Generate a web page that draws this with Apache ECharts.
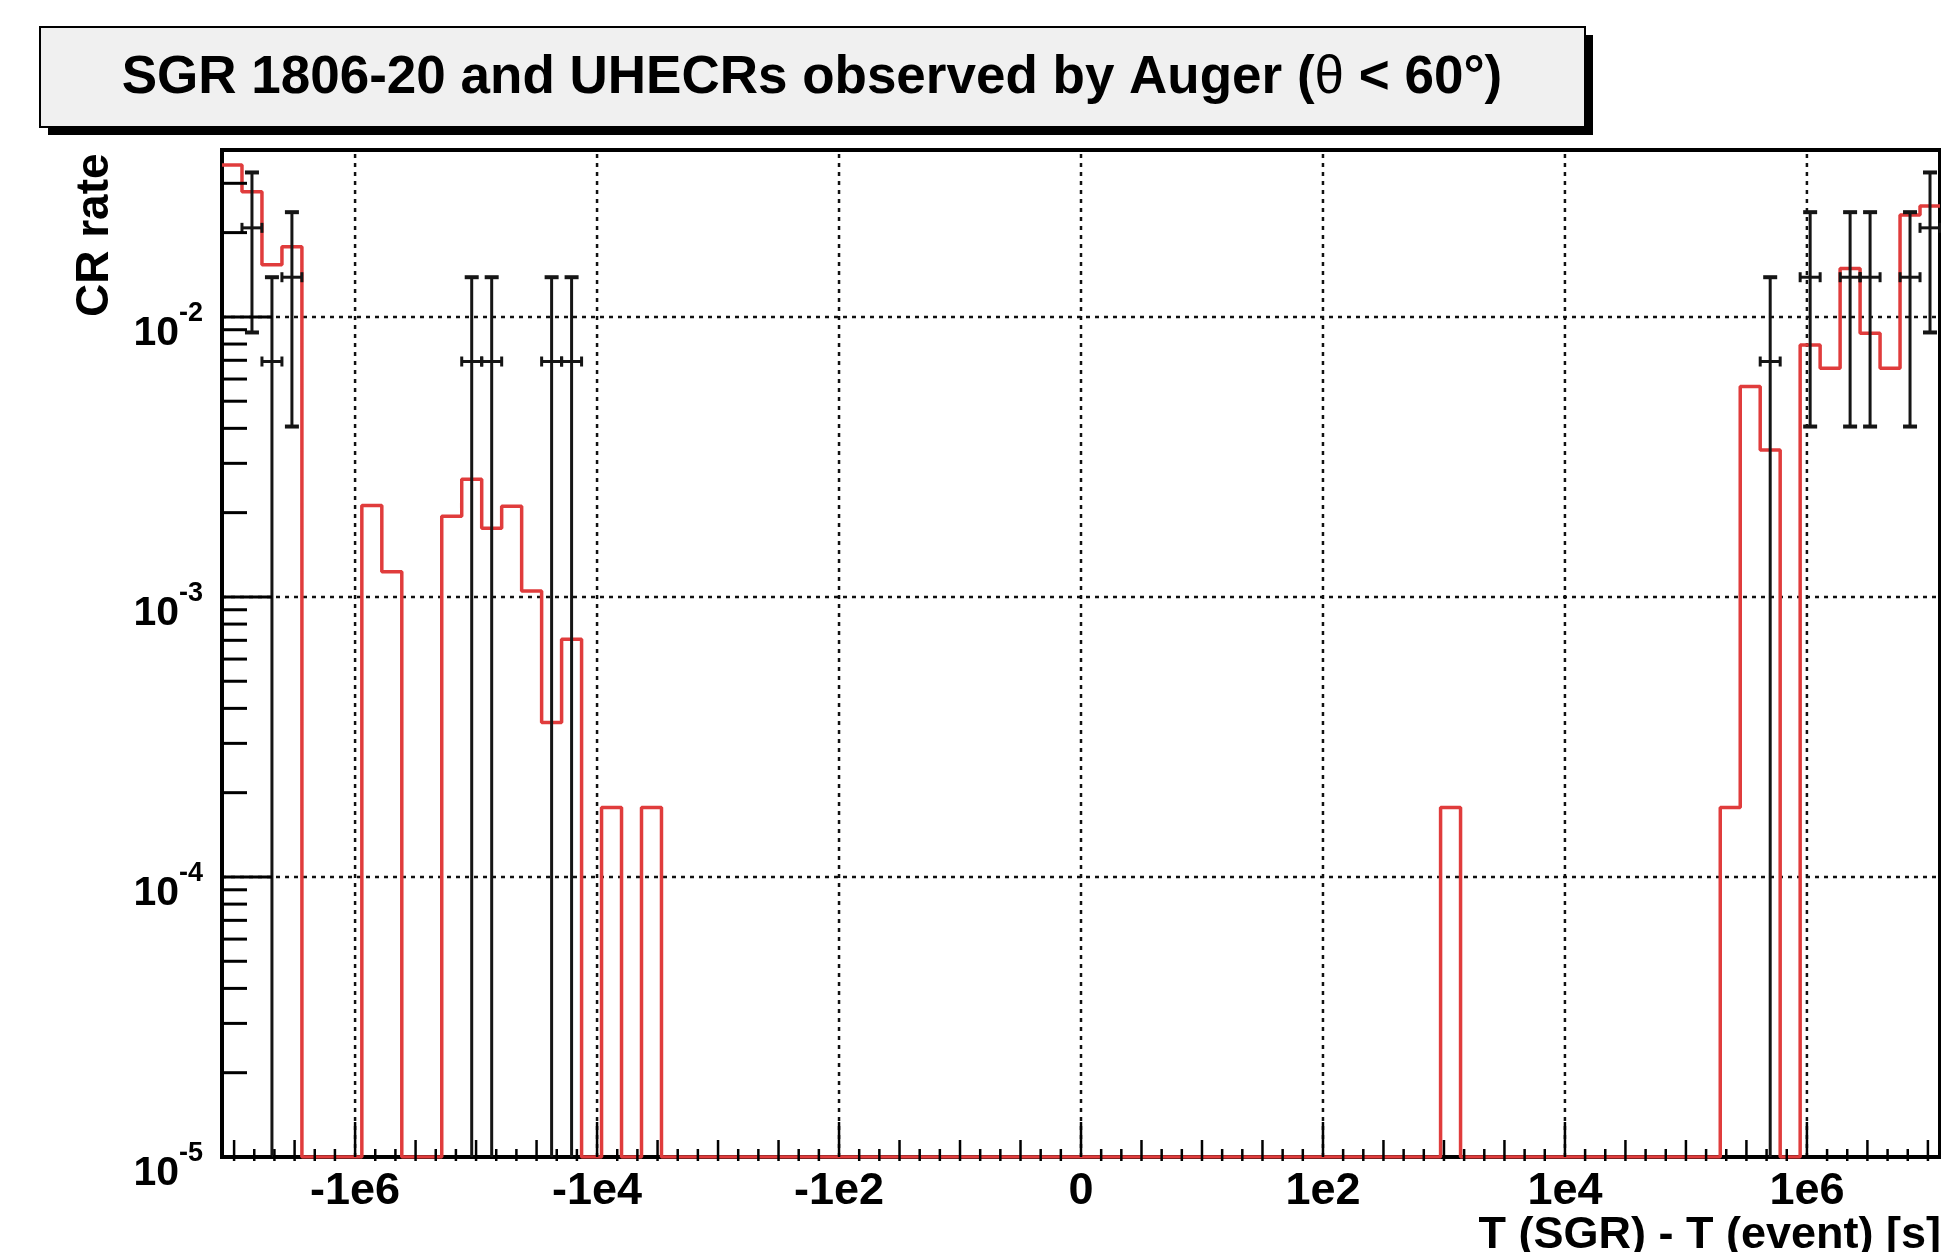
<!DOCTYPE html>
<html>
<head>
<meta charset="utf-8">
<script src="https://cdn.jsdelivr.net/npm/echarts@6/dist/echarts.min.js"></script>
<style>
html,body{margin:0;padding:0;background:#fff;overflow:hidden}
#main{width:1941px;height:1252px}
</style>
</head>
<body>
<div id="main"></div>
<script>
// ---- axis ranges (transformed time axis u = sign(t)*log10|t|) ----
const X_RANGE = [-7.1, 7.1];
const N_BINS = 86;
const Y_RANGE = [1e-5, 0.03945];

// ---- expected CR rate histogram (red), one value per bin, 0 = empty ----
const redRate = [
  0.0349, 0.0280, 0.01535, 0.0178,
  0, 0, 0,
  0.00212, 0.00123,
  0, 0,
  0.00194, 0.00263, 0.00176, 0.00211, 0.00105, 0.000356, 0.000706,
  0,
  0.000177,
  0,
  0.000177,
  0, 0, 0, 0, 0, 0, 0, 0, 0, 0,
  0, 0, 0, 0, 0, 0, 0, 0, 0, 0,
  0, 0, 0, 0, 0, 0, 0, 0, 0, 0,
  0, 0, 0, 0, 0, 0, 0, 0, 0,
  0.000177,
  0, 0, 0, 0, 0, 0, 0, 0, 0, 0, 0, 0, 0,
  0.000177,
  0.00564, 0.00335,
  0,
  0.00794, 0.00656, 0.0149, 0.00874, 0.00656, 0.0231, 0.0249
];

// ---- observed UHECR rate (black points with errors) ----
const dataBin  = [1, 2, 3, 12, 13, 16, 17, 77, 79, 81, 82, 84, 85];
const dataRate = [0.0208, 0.00693, 0.01386, 0.00693, 0.00693, 0.00693, 0.00693,
                  0.00693, 0.01386, 0.01386, 0.01386, 0.01386, 0.0208];
const dataErr  = [0.0120, 0.00693, 0.0098, 0.00693, 0.00693, 0.00693, 0.00693,
                  0.00693, 0.0098, 0.0098, 0.0098, 0.0098, 0.0120];

// ---- ticks / labels ----
const xTickPos = [-6, -4, -2, 0, 2, 4, 6];
const xTickLabels = ['-1e6', '-1e4', '-1e2', '0', '1e2', '1e4', '1e6'];
const yGridPos = [1e-4, 1e-3, 1e-2];
const yDecades = [-5, -4, -3, -2];

const FONT = "'Liberation Sans', Arial, Helvetica, sans-serif";
const binW = (X_RANGE[1] - X_RANGE[0]) / N_BINS;
const edge = k => X_RANGE[0] + k * binW;

// red step outline
const redLine = [];
redRate.forEach((v, k) => {
  const y = v > 0 ? v : Y_RANGE[0];
  redLine.push([edge(k), y]);
  redLine.push([edge(k + 1), y]);
});

const blackData = dataBin.map((b, i) => [edge(b) + binW / 2, dataRate[i], dataErr[i], binW / 2]);

const chart = echarts.init(document.getElementById('main'), null, {renderer: 'canvas'});

function lineEl(x1, y1, x2, y2, w, color, dash) {
  return {type: 'line', shape: {x1, y1, x2, y2},
    style: {stroke: color || '#000', lineWidth: w, lineDash: dash || null}, silent: true};
}

const option = {
  backgroundColor: '#fff',
  animation: false,
  grid: {left: 222, right: 1, top: 150, bottom: 95, show: true,
         borderColor: '#000', borderWidth: 4, backgroundColor: 'transparent'},
  xAxis: {
    type: 'value', min: X_RANGE[0], max: X_RANGE[1],
    axisLine: {show: false}, axisTick: {show: false}, splitLine: {show: false},
    axisLabel: {
      customValues: xTickPos,
      formatter: v => { const i = xTickPos.findIndex(p => Math.abs(p - v) < 1e-9); return i >= 0 ? xTickLabels[i] : ''; },
      fontFamily: FONT, fontWeight: 'bold', fontSize: 45, color: '#000', margin: 12
    }
  },
  yAxis: {
    type: 'log', logBase: 10, min: Y_RANGE[0], max: Y_RANGE[1], interval: 1,
    axisLine: {show: false}, axisTick: {show: false}, splitLine: {show: false},
    axisLabel: {
      showMaxLabel: false,
      margin: 19,
      padding: [20, 0, 0, 0],
      formatter: v => {
        const e = Math.log10(v);
        if (Math.abs(e - Math.round(e)) > 1e-6) return '';
        return '{b|10}{s|' + Math.round(e) + '}';
      },
      rich: {
        b: {fontFamily: FONT, fontWeight: 'bold', fontSize: 41, lineHeight: 54, verticalAlign: 'bottom', color: '#000'},
        s: {fontFamily: FONT, fontWeight: 'bold', fontSize: 27, lineHeight: 26, verticalAlign: 'top', color: '#000'}
      }
    }
  },
  graphic: [
    {type: 'rect', shape: {x: 48, y: 35, width: 1545, height: 100}, style: {fill: '#000'}, z: 10},
    {type: 'rect', shape: {x: 40, y: 27, width: 1545, height: 100},
     style: {fill: '#f0f0f0', stroke: '#000', lineWidth: 2}, z: 11},
    {type: 'text', x: 812, y: 78, z: 12,
     style: {
       text: '{b|SGR 1806-20 and UHECRs observed by Auger (}{t|θ}{b| < 60°)}',
       align: 'center', verticalAlign: 'middle',
       rich: {
         b: {fontFamily: FONT, fontWeight: 'bold', fontSize: 53, fill: '#000'},
         t: {fontFamily: FONT, fontWeight: 'normal', fontSize: 53, fill: '#000'}
       }
     }},
    {type: 'text', x: 95, y: 317, rotation: Math.PI / 2, z: 12,
     style: {text: 'CR rate', fontFamily: FONT, fontWeight: 'bold', fontSize: 46,
             fill: '#000', align: 'left', verticalAlign: 'middle'}},
    {type: 'text', x: 1941, y: 1236, z: 12,
     style: {text: 'T (SGR) - T (event) [s]', fontFamily: FONT, fontWeight: 'bold', fontSize: 45,
             fill: '#000', align: 'right', verticalAlign: 'middle'}}
  ],
  series: [
    { // dotted grid
      type: 'custom', z: 1, silent: true, clip: false,
      data: [[0, 1e-3]],
      renderItem: (params, api) => {
        const ch = [];
        const dash = [4, 5];
        xTickPos.forEach(x => {
          const a = api.coord([x, Y_RANGE[0]]), b = api.coord([x, Y_RANGE[1]]);
          ch.push(lineEl(a[0], a[1], b[0], b[1], 2.5, '#111', dash));
        });
        yGridPos.forEach(y => {
          const a = api.coord([X_RANGE[0], y]), b = api.coord([X_RANGE[1], y]);
          ch.push(lineEl(a[0], a[1], b[0], b[1], 2.5, '#111', dash));
        });
        return {type: 'group', children: ch};
      }
    },
    { // expected rate histogram
      type: 'line', z: 3, data: redLine, symbol: 'none', clip: true,
      lineStyle: {color: '#e03c3c', width: 3.5}, silent: true
    },
    { // observed rate with error bars
      type: 'custom', z: 4, silent: true, clip: false,
      data: blackData,
      renderItem: (params, api) => {
        const x = api.value(0), y = api.value(1), e = api.value(2), hw = api.value(3);
        const c = '#151515';
        const top = api.coord([x, y + e]);
        const lowV = y - e;
        const hasLow = lowV > Y_RANGE[0] * 1.0001;
        const bot = api.coord([x, hasLow ? lowV : Y_RANGE[0]]);
        const l = api.coord([x - hw, y]), r = api.coord([x + hw, y]);
        const ch = [
          lineEl(top[0], top[1], bot[0], bot[1], 3, c),
          lineEl(l[0], l[1], r[0], r[1], 3, c),
          lineEl(top[0] - 7, top[1], top[0] + 7, top[1], 4, c),
          lineEl(l[0], l[1] - 5, l[0], l[1] + 5, 3, c),
          lineEl(r[0], r[1] - 5, r[0], r[1] + 5, 3, c)
        ];
        if (hasLow) ch.push(lineEl(bot[0] - 7, bot[1], bot[0] + 7, bot[1], 4, c));
        return {type: 'group', children: ch};
      }
    },
    { // axis ticks (ROOT style, inside)
      type: 'custom', z: 5, silent: true, clip: false,
      data: [[0, 1e-3]],
      renderItem: (params, api) => {
        const ch = [];
        for (let k = -43; k <= 43; k++) {
          const u = k / 6;
          if (u < X_RANGE[0] || u > X_RANGE[1]) continue;
          const p = api.coord([u, Y_RANGE[0]]);
          if (k % 12 === 0) ch.push(lineEl(p[0], p[1], p[0], p[1] - 35, 2.5));
          else if (k % 3 === 0) ch.push(lineEl(p[0], p[1] + 4, p[0], p[1] - 17, 2.5));
          else ch.push(lineEl(p[0], p[1] + 4, p[0], p[1] - 8, 2.5));
        }
        yDecades.forEach(d => {
          for (let m = 1; m <= 9; m++) {
            const v = m * Math.pow(10, d);
            if (v > Y_RANGE[1]) continue;
            const p = api.coord([X_RANGE[0], v]);
            ch.push(lineEl(p[0], p[1], p[0] + (m === 1 ? 50 : 25), p[1], 3));
          }
        });
        return {type: 'group', children: ch};
      }
    }
  ]
};
chart.setOption(option);
</script>
</body>
</html>
